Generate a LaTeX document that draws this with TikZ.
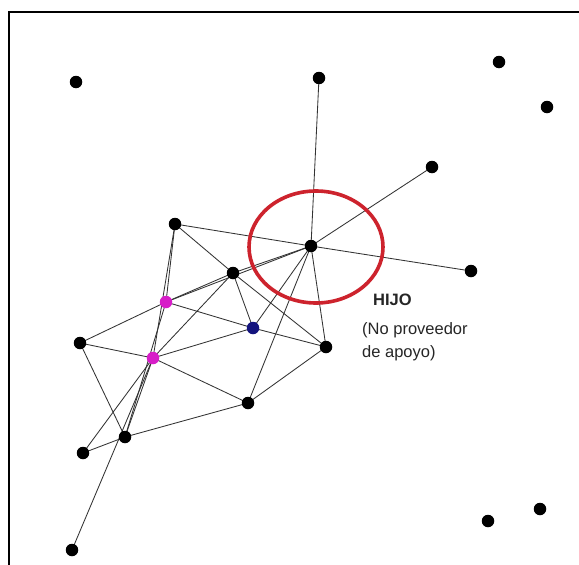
\documentclass[tikz,border=0pt]{standalone}
\usepackage{fontspec}
\setmainfont{Liberation Sans}
\begin{document}
\begin{tikzpicture}[x=1pt,y=-1pt,
  dot/.style={circle,fill=black,inner sep=0pt,minimum size=12.5pt},
  pinkdot/.style={dot,fill=netpink},
  bluedot/.style={dot,fill=netblue},
  tie/.style={draw=black!80,line width=0.85pt},
  lbl/.style={anchor=base west,inner sep=0pt,font=\fontsize{16.5}{20}\selectfont,text=black!85}]
\definecolor{netpink}{RGB}{215,30,200}
\definecolor{netblue}{RGB}{20,20,125}
\definecolor{ringred}{RGB}{205,35,45}
\useasboundingbox (0,0) rectangle (579,565);
\fill[white] (0,0) rectangle (579,565);
% frame
\draw[line width=1.6pt] (9,565) -- (9,12) -- (579,12);

% ties are drawn first, so the nodes sit on top of them
\coordinate (A) at (76,82);
\coordinate (B) at (319,78);
\coordinate (C) at (499,62);
\coordinate (D) at (547,107);
\coordinate (E) at (432,167);
\coordinate (H) at (311,246);
\coordinate (F) at (471,271);
\coordinate (G) at (175,224);
\coordinate (I) at (233,273);
\coordinate (P1) at (166,302);
\coordinate (Bl) at (253,328);
\coordinate (J) at (326,347);
\coordinate (K) at (80,343);
\coordinate (P2) at (153,358);
\coordinate (L) at (248,403);
\coordinate (M) at (125,437);
\coordinate (N) at (83,453);
\coordinate (O) at (72,550);
\coordinate (Q) at (488,521);
\coordinate (R) at (540,509);

\foreach \a/\b in {H/B,H/E,H/F,H/G,H/I,H/P1,H/Bl,H/L,H/J,
  G/I,G/P1,G/P2,I/P2,I/Bl,I/J,P1/I,P1/K,P1/Bl,P1/M,
  P2/K,P2/Bl,P2/L,P2/M,P2/N,P2/O,K/M,N/M,M/L,L/J,Bl/J}
  \draw[tie] (\a) -- (\b);

% nodes
\foreach \n in {A,B,C,D,E,H,F,G,I,J,K,L,M,N,O,Q,R}
  \node[dot] (n\n) at (\n) {};
\node[pinkdot] (nP1) at (P1) {};
\node[pinkdot] (nP2) at (P2) {};
\node[bluedot] (nBl) at (Bl) {};

% highlighted node
\draw[ringred,line width=3.6pt] (316,247) ellipse [x radius=67, y radius=56];

\node[lbl,font=\fontsize{16.5}{20}\selectfont\bfseries] (t1) at (373,305) {HIJO};
\node[lbl] (t2) at (362,334) {(No proveedor};
\node[lbl] (t3) at (362,357) {de apoyo)};
\end{tikzpicture}
\end{document}
